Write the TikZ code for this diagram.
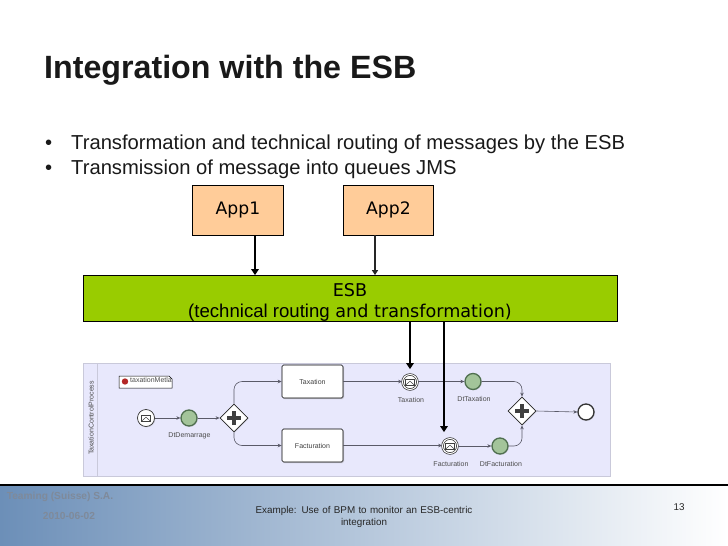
\documentclass[tikz,border=0pt]{standalone}
\usepackage{fontspec}
\setmainfont{Liberation Sans}
\newfontfamily\dejav{DejaVu Sans}
\usetikzlibrary{shapes.geometric,arrows.meta,shadows}
\definecolor{appfill}{HTML}{FFCC99}
\definecolor{esbfill}{HTML}{99CC00}
\definecolor{panelfill}{HTML}{E8E8FC}
\definecolor{panelline}{HTML}{C9C9DA}
\definecolor{flowline}{HTML}{5A5A68}
\definecolor{dtfill}{HTML}{A3C49A}
\definecolor{dtline}{HTML}{4F6F4F}
\definecolor{footdark}{HTML}{6C8FB8}
\definecolor{footmid}{HTML}{A6B9D1}
\definecolor{foottext}{HTML}{7F8A9A}
\tikzset{
  x=1pt,y=-1pt,
  appbox/.style={draw=black,line width=0.8pt,fill=appfill,minimum width=90.5pt,minimum height=50pt,inner sep=0pt,font=\dejav\fontsize{17.2}{20}\selectfont},
  bigarrow/.style={draw=black,line width=2.2pt,-{Triangle[length=6pt,width=7.5pt]}},
  midarrow/.style={draw=black!85,line width=1.5pt,-{Triangle[length=5pt,width=6pt]}},
  flow/.style={draw=flowline,line width=0.6pt,rounded corners=8pt,-{Stealth[length=4pt,width=3.5pt]}},
  task/.style={draw=black,line width=0.6pt,fill=white,rounded corners=1.5pt,minimum width=61pt,minimum height=33pt,inner sep=0pt,font=\fontsize{7}{8}\selectfont,text=black!75,drop shadow={shadow xshift=1pt,shadow yshift=-1pt,opacity=0.35}},
  evt/.style={circle,draw=black!80,line width=0.7pt,fill=white,minimum size=17pt,inner sep=0pt,drop shadow={shadow xshift=0.8pt,shadow yshift=-0.8pt,opacity=0.3}},
  dt/.style={circle,draw=dtline,line width=1.3pt,fill=dtfill,minimum size=16pt,inner sep=0pt,drop shadow={shadow xshift=0.8pt,shadow yshift=-0.8pt,opacity=0.3}},
  gate/.style={diamond,aspect=1,draw=black!85,line width=0.8pt,fill=white,minimum size=28pt,inner sep=0pt,drop shadow={shadow xshift=0.8pt,shadow yshift=-0.8pt,opacity=0.3}},
  small/.style={inner sep=0pt,font=\fontsize{7}{8}\selectfont,text=black!70},
  foot/.style={inner sep=0pt,font=\fontsize{9.85}{12}\selectfont,align=center},
}
\newcommand{\envelopeat}[1]{%
  \draw[black!75,line width=0.5pt,fill=white] ([xshift=-4.5pt,yshift=-3.2pt]#1.center) rectangle ([xshift=4.5pt,yshift=3.2pt]#1.center);
  \draw[black!75,line width=0.5pt] ([xshift=-4.5pt,yshift=-3.2pt]#1.center) -- ([yshift=0.8pt]#1.center) -- ([xshift=4.5pt,yshift=-3.2pt]#1.center);}
\newcommand{\plusat}[1]{%
  \draw[black!75,line width=3.4pt] ([xshift=-7pt]#1.center) -- ([xshift=7pt]#1.center);
  \draw[black!75,line width=3.4pt] ([yshift=-7pt]#1.center) -- ([yshift=7pt]#1.center);}
\begin{document}
\begin{tikzpicture}
\useasboundingbox (0,0) rectangle (728,546);
\fill[white] (0,0) rectangle (728,546);
% footer
\shade[left color=footdark,middle color=footmid,right color=white] (0,485) rectangle (728,546);
\draw[black,line width=1.4pt] (0,485) -- (728,485);
% title and bullets
\node[anchor=base west,inner sep=0pt,font=\bfseries\fontsize{32.2}{36}\selectfont,text=black!90] (title) at (44,78) {Integration with the ESB};
\node[anchor=base west,inner sep=0pt,font=\fontsize{20.2}{24}\selectfont,text=black!90] (b1) at (71,149) {Transformation and technical routing of messages by the ESB};
\node[anchor=base west,inner sep=0pt,font=\fontsize{20.2}{24}\selectfont,text=black!90] (b2) at (71,174) {Transmission of message into queues JMS};
\node[anchor=base west,inner sep=0pt,font=\fontsize{20.2}{24}\selectfont,text=black!90] (d1) at (45,149) {•};
\node[anchor=base west,inner sep=0pt,font=\fontsize{20.2}{24}\selectfont,text=black!90] (d2) at (45,174) {•};
% apps and ESB
\node[appbox] (app1) at (238,210) {App1};
\node[appbox] (app2) at (388.5,210) {App2};
\node[draw=black,line width=0.8pt,fill=esbfill,minimum width=534pt,minimum height=46pt,inner sep=0pt,align=center,font=\dejav\fontsize{17.6}{21}\selectfont] (esb) at (350,298.5)
  {\rule{0pt}{21pt}ESB\\{\rmfamily\fontsize{18.6}{21}\selectfont (technical routing} and transformation)};
\coordinate (a1) at (255,235);
\coordinate (a2) at (375,235);
\draw[bigarrow] (a1) -- (a1 |- esb.north);
\draw[midarrow] (a2) -- (a2 |- esb.north);
% process panel
\node[draw=panelline,line width=0.7pt,fill=panelfill,minimum width=527pt,minimum height=113pt,inner sep=0pt] (panel) at (346.5,419.5) {};
\draw[panelline,line width=0.7pt] (97,363) -- (97,476);
\node[rotate=90,small] (lane) at (91,418) {TaxationControlProcess};
% annotation
\draw[black,line width=0.5pt,fill=white] (119,376) -- (169,376) -- (172,379) -- (172,388) -- (119,388) -- cycle;
\fill[red!65!black!85] (125,381.5) circle (3.2pt);
\node[small,anchor=west] (note) at (130,380) {taxationMetla};
% nodes
\node[evt] (start) at (146,418) {};
\node[dt] (dem) at (189,418) {};
\node[gate] (split) at (234,418) {};
\node[task] (tax) at (312.5,381.5) {Taxation};
\node[task] (fac) at (312.5,445.5) {Facturation};
\node[evt,double,double distance=1pt,minimum size=15pt] (msgt) at (410,382) {};
\node[dt] (dtt) at (473,381.5) {};
\node[evt,double,double distance=1pt,minimum size=15pt] (msgf) at (450,446) {};
\node[dt] (dtf) at (500,446) {};
\node[gate] (join) at (522,411) {};
\node[evt,line width=1.3pt,minimum size=16pt] (end) at (586,412) {};
\envelopeat{start}\envelopeat{msgt}\envelopeat{msgf}
\plusat{split}\plusat{join}
% labels
\node[small] (ldem) at (189.5,435.5) {DtDemarrage};
\node[small] (lmt) at (411,399.5) {Taxation};
\node[small] (ldt) at (474,399) {DtTaxation};
\node[small] (lmf) at (451,463.5) {Facturation};
\node[small] (ldf) at (501,463.5) {DtFacturation};
% flows
\draw[flow] (start) -- (dem);
\draw[flow] (dem) -- (split);
\draw[flow] (split.north) |- (tax.west);
\draw[flow] (split.south) |- (fac.west);
\draw[flow] (tax.east) -- (msgt.west |- tax.east);
\draw[flow] (fac.east) -- (msgf.west |- fac.east);
\draw[flow] (msgt.east |- dtt.west) -- (dtt.west);
\draw[flow] (msgf) -- (dtf);
\draw[flow] (dtt.east) -| (join.north);
\draw[flow] (dtf.east) -| (join.south);
\draw[flow] (join.east) -- (end.west);
% thick arrows into the panel
\draw[bigarrow,shorten >=5pt] (esb.south -| msgt) -- (msgt.north);
\coordinate (f1) at (444,321);
\draw[bigarrow,shorten >=6pt] (f1) -- (f1 |- msgf.north);
% footer text
\node[foot,text=foottext,font=\bfseries\fontsize{10.2}{12}\selectfont] (f2) at (60,497) {Teaming (Suisse) S.A.};
\node[foot,text=foottext,font=\bfseries\fontsize{10.2}{12}\selectfont] (f3) at (69,516) {2010-06-02};
\node[foot,text=black!85,text width=230pt] (f4) at (364,517) {Example: Use of BPM to monitor an ESB-centric\\integration};
\node[foot,text=black!85] (f5) at (679,507) {13};
\end{tikzpicture}
\end{document}
